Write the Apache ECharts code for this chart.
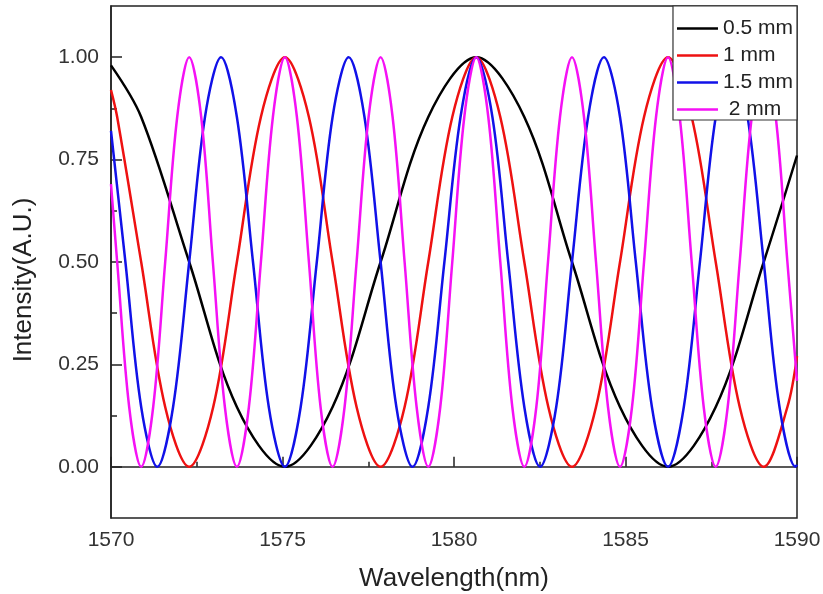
<!DOCTYPE html>
<html>
<head>
<meta charset="utf-8">
<script src="https://cdn.jsdelivr.net/npm/echarts@6/dist/echarts.min.js"></script>
<style>
  html, body { margin: 0; padding: 0; background: #fff; }
  #chart { width: 823px; height: 594px; }
</style>
</head>
<body>
<div id="chart"></div>
<script>
// readings: wavelength (nm) and intensity for each length
const names = ['0.5 mm', '1 mm', '1.5 mm', ' 2 mm']
const colors = ['#000000', '#ee1111', '#1111e8', '#f511f5']

const wl05 = [1570, 1570.88, 1572.28, 1573.67, 1575.07, 1576.46, 1577.86, 1579.25, 1580.65,
  1582.05, 1583.44, 1584.84, 1586.24, 1587.63, 1589.03, 1590]
const in05 = [0.98, 0.854, 0.5, 0.146, 0, 0.146, 0.5, 0.854, 1,
  0.854, 0.5, 0.146, 0, 0.146, 0.5, 0.76]

const wl1 = [1570, 1570.18, 1570.88, 1571.58, 1572.28, 1572.98, 1573.67, 1574.37, 1575.07,
  1575.77, 1576.46, 1577.16, 1577.86, 1578.56, 1579.25, 1579.95, 1580.65,
  1581.35, 1582.05, 1582.75, 1583.44, 1584.14, 1584.84, 1585.54, 1586.24,
  1586.93, 1587.63, 1588.33, 1589.03, 1589.72, 1590]
const in1 = [0.92, 0.854, 0.5, 0.146, 0, 0.146, 0.5, 0.854, 1,
  0.854, 0.5, 0.146, 0, 0.146, 0.5, 0.854, 1,
  0.854, 0.5, 0.146, 0, 0.146, 0.5, 0.854, 1,
  0.854, 0.5, 0.146, 0, 0.146, 0.27]

const wl15 = [1570, 1570.42, 1570.88, 1571.35,
  1571.81, 1572.28, 1572.74, 1573.21, 1573.67, 1574.14, 1574.60, 1575.07,
  1575.53, 1576.00, 1576.46, 1576.93, 1577.39, 1577.86, 1578.32, 1578.79,
  1579.25, 1579.72, 1580.19, 1580.65, 1581.12, 1581.58, 1582.05, 1582.51,
  1582.98, 1583.44, 1583.91, 1584.37, 1584.84, 1585.30, 1585.77, 1586.24,
  1586.70, 1587.17, 1587.63, 1588.10, 1588.56, 1589.03, 1589.49, 1589.96, 1590]
const in15 = [0.82, 0.5, 0.146, 0,
  0.146, 0.5, 0.854, 1, 0.854, 0.5, 0.146, 0,
  0.146, 0.5, 0.854, 1, 0.854, 0.5, 0.146, 0,
  0.146, 0.5, 0.854, 1, 0.854, 0.5, 0.146, 0,
  0.146, 0.5, 0.854, 1, 0.854, 0.5, 0.146, 0,
  0.146, 0.5, 0.854, 1, 0.854, 0.5, 0.146, 0, 0.005]

const wl2 = [1570, 1570.18, 1570.53, 1570.88, 1571.23, 1571.58, 1571.93, 1572.28,
  1572.63, 1572.97, 1573.32, 1573.67, 1574.02, 1574.37, 1574.72, 1575.07,
  1575.42, 1575.77, 1576.11, 1576.46, 1576.81, 1577.16, 1577.51, 1577.86,
  1578.21, 1578.56, 1578.91, 1579.25, 1579.60, 1579.95, 1580.30, 1580.65,
  1581.00, 1581.35, 1581.70, 1582.05, 1582.40, 1582.74, 1583.09, 1583.44,
  1583.79, 1584.14, 1584.49, 1584.84, 1585.19, 1585.54, 1585.89, 1586.24,
  1586.58, 1586.93, 1587.28, 1587.63, 1587.98, 1588.33, 1588.68, 1589.03,
  1589.38, 1589.72, 1590]
const in2 = [0.69, 0.5, 0.146, 0, 0.146, 0.5, 0.854, 1,
  0.854, 0.5, 0.146, 0, 0.146, 0.5, 0.854, 1,
  0.854, 0.5, 0.146, 0, 0.146, 0.5, 0.854, 1,
  0.854, 0.5, 0.146, 0, 0.146, 0.5, 0.854, 1,
  0.854, 0.5, 0.146, 0, 0.146, 0.5, 0.854, 1,
  0.854, 0.5, 0.146, 0, 0.146, 0.5, 0.854, 1,
  0.854, 0.5, 0.146, 0, 0.146, 0.5, 0.854, 1,
  0.854, 0.5, 0.21]

const yMajor = [0, 0.25, 0.5, 0.75, 1]
const yMinor = [0.125, 0.375, 0.625, 0.875]

const zip = (xs, ys) => xs.map((x, i) => [x, ys[i]])
const curves = [zip(wl05, in05), zip(wl1, in1), zip(wl15, in15), zip(wl2, in2)]

const font = 'Liberation Sans, Arial, sans-serif'

const chart = echarts.init(document.getElementById('chart'))
chart.setOption({
  animation: false,
  backgroundColor: '#fff',
  grid: {
    left: 111,
    right: 26,
    top: 6,
    bottom: 76,
    outerBoundsMode: 'none',
    show: true,
    borderColor: '#222',
    borderWidth: 1.5,
    backgroundColor: 'transparent'
  },
  legend: {
    data: names,
    orient: 'vertical',
    right: 26,
    top: 6,
    icon: 'rect',
    itemWidth: 41,
    itemHeight: 2.5,
    itemGap: 6,
    padding: [12, 4, 0, 4],
    backgroundColor: '#fff',
    borderColor: '#333',
    borderWidth: 1.2,
    borderRadius: 0,
    textStyle: { fontFamily: font, fontSize: 21, color: '#222' }
  },
  xAxis: {
    type: 'value',
    min: 1570,
    max: 1590,
    interval: 5,
    name: 'Wavelength(nm)',
    nameLocation: 'middle',
    nameGap: 48,
    nameTextStyle: { fontFamily: font, fontSize: 26, color: '#222' },
    axisLine: { lineStyle: { color: '#222', width: 1.5 } },
    axisTick: { inside: true, length: 10, lineStyle: { color: '#222', width: 1.5 } },
    minorTick: { show: true, splitNumber: 2, length: 5, lineStyle: { color: '#222', width: 1.5 } },
    axisLabel: { fontFamily: font, fontSize: 21, color: '#333', margin: 12, formatter: v => String(v) },
    splitLine: { show: false }
  },
  yAxis: [
    {
      type: 'value',
      min: -0.125,
      max: 1.125,
      name: 'Intensity(A.U.)',
      nameLocation: 'middle',
      nameGap: 74,
      nameTextStyle: { fontFamily: font, fontSize: 26, color: '#222', padding: [0, 36, 0, 0] },
      axisLine: { show: true, lineStyle: { color: '#222', width: 1.5 } },
      axisTick: { show: true, inside: true, length: 11, customValues: yMajor, lineStyle: { color: '#222', width: 1.5 } },
      axisLabel: {
        fontFamily: font,
        fontSize: 21,
        color: '#333',
        margin: 12,
        customValues: yMajor,
        formatter: v => v.toFixed(2)
      },
      splitLine: { show: false }
    },
    {
      type: 'value',
      position: 'left',
      min: -0.125,
      max: 1.125,
      axisLine: { show: false },
      axisTick: { show: true, inside: true, length: 6, customValues: yMinor, lineStyle: { color: '#222', width: 1.5 } },
      axisLabel: { show: false },
      splitLine: { show: false }
    }
  ],
  series: curves.map((d, i) => ({
    name: names[i],
    type: 'line',
    data: d,
    smooth: 0.34,
    showSymbol: false,
    lineStyle: { color: colors[i], width: 2.5 },
    itemStyle: { color: colors[i] }
  }))
})
</script>
</body>
</html>
